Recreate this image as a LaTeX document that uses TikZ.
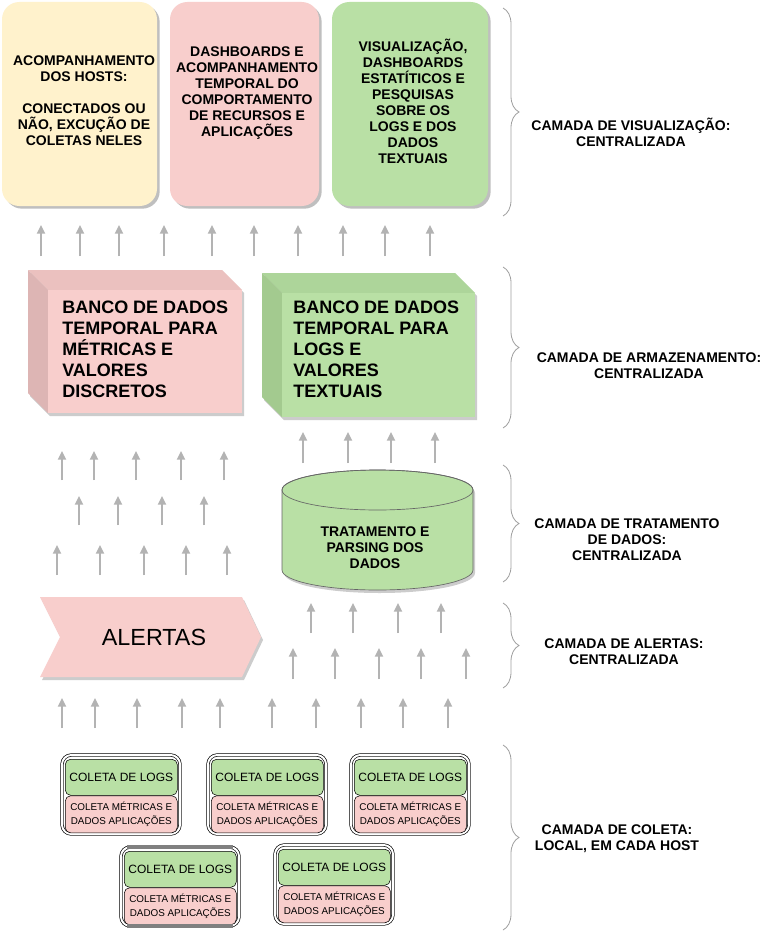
\documentclass[tikz,border=0pt]{standalone}
\usepackage{fontspec}
\setmainfont{Liberation Sans}
\usetikzlibrary{arrows.meta,shadows,decorations.pathreplacing}
\definecolor{paleyellow}{HTML}{FFF2CC}
\definecolor{palered}{HTML}{F8CECC}
\definecolor{palegreen}{HTML}{B9E0A5}
\definecolor{redtop}{HTML}{EBC1BF}
\definecolor{redside}{HTML}{DDB5B4}
\definecolor{greentop}{HTML}{ADD59A}
\definecolor{greenside}{HTML}{A3CA8F}
\definecolor{arrowgray}{HTML}{B3B3B3}
\begin{document}
\begin{tikzpicture}[x=0.75pt, y=-0.75pt,
    every node/.style={inner sep=0pt, align=center},
    boldtext/.style={font=\fontsize{10.5}{12}\selectfont\bfseries},
    dbtext/.style={font=\fontsize{13.5}{15.75}\selectfont\bfseries, align=left},
    vbox/.style={rounded corners=13pt, minimum height=153pt,
        drop shadow={shadow xshift=2pt, shadow yshift=-2pt, opacity=0.25, fill=black}},
    upar/.style={arrowgray, line width=1.5pt, -{Triangle[width=6pt,length=6.5pt]}},
    layer/.style={decorate, decoration={brace, amplitude=12pt}, draw=gray!75, line width=0.6pt},
    logbox/.style={draw, fill=palegreen, rounded corners=4pt, minimum width=84pt,
        minimum height=27pt, font=\fontsize{9}{11}\selectfont},
    metbox/.style={draw, fill=palered, rounded corners=4pt, minimum width=84pt,
        minimum height=27.75pt, font=\fontsize{7.4}{10.5}\selectfont},
    hostframe/.style={draw, double, line width=0.5pt, double distance=1.5pt, rounded corners=7pt},
    shade/.style={black!20, shift={(2,3)}}]
    \fill[white] (0,0) rectangle (767,931);
    \useasboundingbox (0,0) rectangle (767,931);

    \node (hosts) [vbox, fill=paleyellow, minimum width=116.25pt] at (79.5,104) {};
    \node (dash) [vbox, fill=palered, minimum width=111.75pt] at (244.5,104) {};
    \node (search) [vbox, fill=palegreen, minimum width=117pt] at (410,104) {};
    \node (hoststxt) [boldtext] at (84,101) {ACOMPANHAMENTO\\DOS HOSTS:\\[12pt]CONECTADOS OU\\NÃO, EXCUÇÃO DE\\COLETAS NELES};
    \node (dashtxt) [boldtext] at (247,93.5) {DASHBOARDS E\\ACOMPANHAMENTO\\TEMPORAL DO\\COMPORTAMENTO\\DE RECURSOS E\\APLICAÇÕES};
    \node (searchtxt) [boldtext] at (413,101) {VISUALIZAÇÃO,\\DASHBOARDS\\ESTATÍTICOS E\\PESQUISAS\\SOBRE OS\\LOGS E DOS\\DADOS\\TEXTUAIS};

    \foreach \x in {41,80,119,164,212,254,298,343,385,430}
        \draw[upar] (\x,256) -- ++(0,-31);

    \fill[shade] (28,270) -- (222,270) -- (242,290) -- (242,413) -- (48,413) -- (28,393) -- cycle;
    \fill[redtop] (28,270) -- (222,270) -- (242,290) -- (48,290) -- cycle;
    \fill[redside] (28,270) -- (48,290) -- (48,413) -- (28,393) -- cycle;
    \node (metricsdb) [fill=palered, minimum width=145.5pt, minimum height=92.25pt, anchor=north west] at (48,290) {};
    \node (metricstxt) [dbtext, anchor=west] at (62,349) {BANCO DE DADOS\\TEMPORAL PARA\\MÉTRICAS E\\VALORES\\DISCRETOS};

    \fill[shade] (262,273) -- (455,273) -- (475,293) -- (475,417) -- (282,417) -- (262,397) -- cycle;
    \fill[greentop] (262,273) -- (455,273) -- (475,293) -- (282,293) -- cycle;
    \fill[greenside] (262,273) -- (282,293) -- (282,417) -- (262,397) -- cycle;
    \node (logsdb) [fill=palegreen, minimum width=144.75pt, minimum height=93pt, anchor=north west] at (282,293) {};
    \node (logstxt) [dbtext, anchor=west] at (293,349) {BANCO DE DADOS\\TEMPORAL PARA\\LOGS E\\VALORES\\TEXTUAIS};

    \foreach \x in {303,348,391,435}
        \draw[upar] (\x,463) -- ++(0,-31);
    \foreach \x in {62,94,136,181,224}
        \draw[upar] (\x,480) -- ++(0,-29);
    \foreach \x in {79,118,162,204}
        \draw[upar] (\x,525) -- ++(0,-29);
    \foreach \x in {57,100,144,186,227}
        \draw[upar] (\x,575) -- ++(0,-30);

    \fill[shade] (282,490) -- (282,570) arc[start angle=180, end angle=0, x radius=95.5, y radius=20]
        -- (473,490) arc[start angle=0, end angle=-180, x radius=95.5, y radius=20] -- cycle;
    \filldraw[fill=palegreen, draw=black!60, line width=0.5pt] (282,490) -- (282,570)
        arc[start angle=180, end angle=0, x radius=95.5, y radius=20]
        -- (473,490) arc[start angle=0, end angle=-180, x radius=95.5, y radius=20] -- cycle;
    \draw[black!60, line width=0.5pt] (377.5,490) ellipse[x radius=95.5, y radius=20];
    \node (parse) [boldtext] at (375,548) {TRATAMENTO E\\PARSING DOS\\DADOS};

    \fill[shade] (40,597) -- (242,597) -- (261,637) -- (242,677) -- (40,677) -- (60,637) -- cycle;
    \fill[palered] (40,597) -- (242,597) -- (261,637) -- (242,677) -- (40,677) -- (60,637) -- cycle;
    \node (alerts) [font=\fontsize{17.5}{20}\selectfont] at (154,637) {ALERTAS};

    \foreach \x in {311,353,398,441}
        \draw[upar] (\x,633) -- ++(0,-30);
    \foreach \x in {293,335,379,421,466}
        \draw[upar] (\x,679) -- ++(0,-31);
    \foreach \x in {62,95,137,182,220,272,316,361,403,448}
        \draw[upar] (\x,728) -- ++(0,-30);

    \foreach \x/\y/\h in {62/755/a, 208/755/b, 351/755/c, 121/847/d, 275/845/e}{
        \draw[hostframe] (\x,\y) rectangle ++(118,79);
        \node (logs\h) [logbox, anchor=north west] at (\x+3,\y+4) {COLETA DE LOGS};
        \node (metrics\h) [metbox, anchor=north] at (logs\h.south) {COLETA MÉTRICAS E\\DADOS APLICAÇÕES};
    }
    \draw[gray, line width=2.5pt] (127,847) -- (233,847);
    \draw[gray, line width=2.5pt] (127,926) -- (233,926);

    \draw[layer] (503,8) -- (503,216);
    \draw[layer] (503,267) -- (503,428);
    \draw[layer] (503,465) -- (503,582);
    \draw[layer] (503,603) -- (503,688);
    \draw[layer] (503,745) -- (503,930);
    \node (vislabel) [boldtext] at (631,132) {CAMADA DE VISUALIZAÇÃO:\\CENTRALIZADA};
    \node (storelabel) [boldtext] at (649,366) {CAMADA DE ARMAZENAMENTO:\\CENTRALIZADA};
    \node (parselabel) [boldtext] at (627,540) {CAMADA DE TRATAMENTO\\DE DADOS:\\CENTRALIZADA};
    \node (alertlabel) [boldtext] at (624,652) {CAMADA DE ALERTAS:\\CENTRALIZADA};
    \node (hostlabel) [boldtext] at (617,839) {CAMADA DE COLETA:\\LOCAL, EM CADA HOST};
\end{tikzpicture}
\end{document}
